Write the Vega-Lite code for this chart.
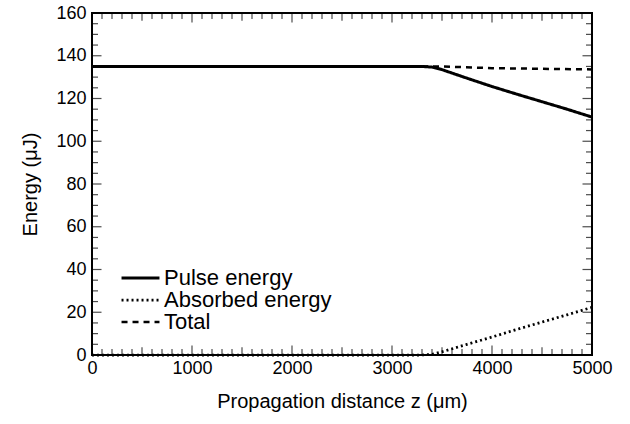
{
  "$schema": "https://vega.github.io/schema/vega-lite/v6.json",
  "width": 500,
  "height": 342,
  "autosize": {"type": "none"},
  "padding": {"left": 92, "top": 13, "right": 38, "bottom": 69},
  "background": "white",
  "config": {
    "font": "Liberation Sans",
    "view": {"stroke": "black", "strokeWidth": 2},
    "axis": {
      "domain": false,
      "grid": false,
      "ticks": false,
      "labelColor": "black",
      "labelFontSize": 18,
      "labelFont": "Liberation Sans",
      "titleColor": "black",
      "titleFontSize": 20,
      "titleFontWeight": "normal",
      "titleFont": "Liberation Sans",
      "labelOverlap": false,
      "labelFlush": false
    }
  },
  "datasets": {
    "curves": [
      {"z": 0, "energy": 135, "series": "Pulse energy"},
      {"z": 1000, "energy": 135, "series": "Pulse energy"},
      {"z": 2000, "energy": 135, "series": "Pulse energy"},
      {"z": 3000, "energy": 135, "series": "Pulse energy"},
      {"z": 3300, "energy": 135, "series": "Pulse energy"},
      {"z": 3400, "energy": 134.7, "series": "Pulse energy"},
      {"z": 3500, "energy": 133.5, "series": "Pulse energy"},
      {"z": 3750, "energy": 129.5, "series": "Pulse energy"},
      {"z": 4000, "energy": 125.6, "series": "Pulse energy"},
      {"z": 4250, "energy": 122, "series": "Pulse energy"},
      {"z": 4500, "energy": 118.5, "series": "Pulse energy"},
      {"z": 4750, "energy": 115, "series": "Pulse energy"},
      {"z": 5000, "energy": 111.3, "series": "Pulse energy"},
      {"z": 0, "energy": 0, "series": "Absorbed energy"},
      {"z": 1000, "energy": 0, "series": "Absorbed energy"},
      {"z": 2000, "energy": 0, "series": "Absorbed energy"},
      {"z": 3000, "energy": 0, "series": "Absorbed energy"},
      {"z": 3300, "energy": 0, "series": "Absorbed energy"},
      {"z": 3400, "energy": 0.3, "series": "Absorbed energy"},
      {"z": 3500, "energy": 1.5, "series": "Absorbed energy"},
      {"z": 3750, "energy": 5, "series": "Absorbed energy"},
      {"z": 4000, "energy": 8.4, "series": "Absorbed energy"},
      {"z": 4250, "energy": 12, "series": "Absorbed energy"},
      {"z": 4500, "energy": 15.4, "series": "Absorbed energy"},
      {"z": 4750, "energy": 18.8, "series": "Absorbed energy"},
      {"z": 5000, "energy": 22.3, "series": "Absorbed energy"},
      {"z": 0, "energy": 135, "series": "Total"},
      {"z": 1000, "energy": 135, "series": "Total"},
      {"z": 2000, "energy": 135, "series": "Total"},
      {"z": 3000, "energy": 135, "series": "Total"},
      {"z": 3400, "energy": 135, "series": "Total"},
      {"z": 3500, "energy": 135, "series": "Total"},
      {"z": 4000, "energy": 134.2, "series": "Total"},
      {"z": 4500, "energy": 133.9, "series": "Total"},
      {"z": 5000, "energy": 133.6, "series": "Total"}
    ],
    "xticks": [
      {"z": 0, "kind": "major"}, {"z": 100, "kind": "minor"}, {"z": 200, "kind": "minor"}, {"z": 300, "kind": "minor"}, {"z": 400, "kind": "minor"},
      {"z": 500, "kind": "medium"}, {"z": 600, "kind": "minor"}, {"z": 700, "kind": "minor"}, {"z": 800, "kind": "minor"}, {"z": 900, "kind": "minor"},
      {"z": 1000, "kind": "major"}, {"z": 1100, "kind": "minor"}, {"z": 1200, "kind": "minor"}, {"z": 1300, "kind": "minor"}, {"z": 1400, "kind": "minor"},
      {"z": 1500, "kind": "medium"}, {"z": 1600, "kind": "minor"}, {"z": 1700, "kind": "minor"}, {"z": 1800, "kind": "minor"}, {"z": 1900, "kind": "minor"},
      {"z": 2000, "kind": "major"}, {"z": 2100, "kind": "minor"}, {"z": 2200, "kind": "minor"}, {"z": 2300, "kind": "minor"}, {"z": 2400, "kind": "minor"},
      {"z": 2500, "kind": "medium"}, {"z": 2600, "kind": "minor"}, {"z": 2700, "kind": "minor"}, {"z": 2800, "kind": "minor"}, {"z": 2900, "kind": "minor"},
      {"z": 3000, "kind": "major"}, {"z": 3100, "kind": "minor"}, {"z": 3200, "kind": "minor"}, {"z": 3300, "kind": "minor"}, {"z": 3400, "kind": "minor"},
      {"z": 3500, "kind": "medium"}, {"z": 3600, "kind": "minor"}, {"z": 3700, "kind": "minor"}, {"z": 3800, "kind": "minor"}, {"z": 3900, "kind": "minor"},
      {"z": 4000, "kind": "major"}, {"z": 4100, "kind": "minor"}, {"z": 4200, "kind": "minor"}, {"z": 4300, "kind": "minor"}, {"z": 4400, "kind": "minor"},
      {"z": 4500, "kind": "medium"}, {"z": 4600, "kind": "minor"}, {"z": 4700, "kind": "minor"}, {"z": 4800, "kind": "minor"}, {"z": 4900, "kind": "minor"},
      {"z": 5000, "kind": "major"}
    ],
    "yticks": [
      {"energy": 0, "kind": "major"}, {"energy": 5, "kind": "minor"}, {"energy": 10, "kind": "minor"}, {"energy": 15, "kind": "minor"},
      {"energy": 20, "kind": "major"}, {"energy": 25, "kind": "minor"}, {"energy": 30, "kind": "minor"}, {"energy": 35, "kind": "minor"},
      {"energy": 40, "kind": "major"}, {"energy": 45, "kind": "minor"}, {"energy": 50, "kind": "minor"}, {"energy": 55, "kind": "minor"},
      {"energy": 60, "kind": "major"}, {"energy": 65, "kind": "minor"}, {"energy": 70, "kind": "minor"}, {"energy": 75, "kind": "minor"},
      {"energy": 80, "kind": "major"}, {"energy": 85, "kind": "minor"}, {"energy": 90, "kind": "minor"}, {"energy": 95, "kind": "minor"},
      {"energy": 100, "kind": "major"}, {"energy": 105, "kind": "minor"}, {"energy": 110, "kind": "minor"}, {"energy": 115, "kind": "minor"},
      {"energy": 120, "kind": "major"}, {"energy": 125, "kind": "minor"}, {"energy": 130, "kind": "minor"}, {"energy": 135, "kind": "minor"},
      {"energy": 140, "kind": "major"}, {"energy": 145, "kind": "minor"}, {"energy": 150, "kind": "minor"}, {"energy": 155, "kind": "minor"},
      {"energy": 160, "kind": "major"}
    ]
  },
  "layer": [
    {
      "data": {"name": "curves"},
      "mark": {"type": "line", "strokeCap": "butt", "strokeJoin": "round", "color": "black"},
      "encoding": {
        "x": {
          "field": "z", "type": "quantitative",
          "scale": {"domain": [0, 5000], "nice": false, "zero": false},
          "axis": {
            "orient": "bottom",
            "title": "Propagation distance z (μm)",
            "titlePadding": 14,
            "values": [0, 1000, 2000, 3000, 4000, 5000],
            "format": "d",
            "labelPadding": 4
          }
        },
        "y": {
          "field": "energy", "type": "quantitative",
          "scale": {"domain": [0, 160], "nice": false},
          "axis": {
            "orient": "left",
            "title": "Energy (μJ)",
            "titlePadding": 15,
            "values": [0, 20, 40, 60, 80, 100, 120, 140, 160],
            "labelPadding": 6
          }
        },
        "strokeDash": {
          "field": "series", "type": "nominal",
          "scale": {"domain": ["Pulse energy", "Absorbed energy", "Total"], "range": [[1, 0], [2, 3], [6, 5]]},
          "legend": {
            "title": null,
            "orient": "none",
            "legendX": 37.5,
            "legendY": 254,
            "symbolType": "M-3,0H3",
            "symbolStrokeColor": "black",
            "symbolFillColor": "transparent",
            "symbolStrokeWidth": 2.5,
            "symbolSize": 160,
            "labelFontSize": 22,
            "labelColor": "black",
            "labelFont": "Liberation Sans",
            "labelOffset": 12.5,
            "labelLimit": 400,
            "rowPadding": -3
          }
        },
        "strokeWidth": {
          "field": "series", "type": "nominal",
          "scale": {"domain": ["Pulse energy", "Absorbed energy", "Total"], "range": [3, 2.5, 2.5]},
          "legend": null
        }
      }
    },
    {
      "data": {"name": "xticks"},
      "mark": {"type": "tick", "orient": "vertical", "color": "black", "thickness": 1.2, "clip": true},
      "encoding": {
        "x": {"field": "z", "type": "quantitative", "axis": null},
        "y": {"datum": 0, "type": "quantitative", "axis": null},
        "size": {"field": "kind", "type": "ordinal", "scale": {"domain": ["major", "medium", "minor"], "range": [19, 12, 9]}, "legend": null}
      }
    },
    {
      "data": {"name": "xticks"},
      "mark": {"type": "tick", "orient": "vertical", "color": "black", "thickness": 1.2, "clip": true},
      "encoding": {
        "x": {"field": "z", "type": "quantitative", "axis": null},
        "y": {"datum": 160, "type": "quantitative", "axis": null},
        "size": {"field": "kind", "type": "ordinal", "scale": {"domain": ["major", "medium", "minor"], "range": [19, 12, 9]}, "legend": null}
      }
    },
    {
      "data": {"name": "yticks"},
      "mark": {"type": "tick", "orient": "horizontal", "color": "black", "thickness": 1.2, "clip": true},
      "encoding": {
        "y": {"field": "energy", "type": "quantitative", "axis": null},
        "x": {"datum": 0, "type": "quantitative", "axis": null},
        "size": {"field": "kind", "type": "ordinal", "scale": {"domain": ["major", "medium", "minor"], "range": [19, 12, 9]}, "legend": null}
      }
    },
    {
      "data": {"name": "yticks"},
      "mark": {"type": "tick", "orient": "horizontal", "color": "black", "thickness": 1.2, "clip": true},
      "encoding": {
        "y": {"field": "energy", "type": "quantitative", "axis": null},
        "x": {"datum": 5000, "type": "quantitative", "axis": null},
        "size": {"field": "kind", "type": "ordinal", "scale": {"domain": ["major", "medium", "minor"], "range": [19, 12, 9]}, "legend": null}
      }
    }
  ],
  "resolve": {"axis": {"x": "independent", "y": "independent"}}
}
